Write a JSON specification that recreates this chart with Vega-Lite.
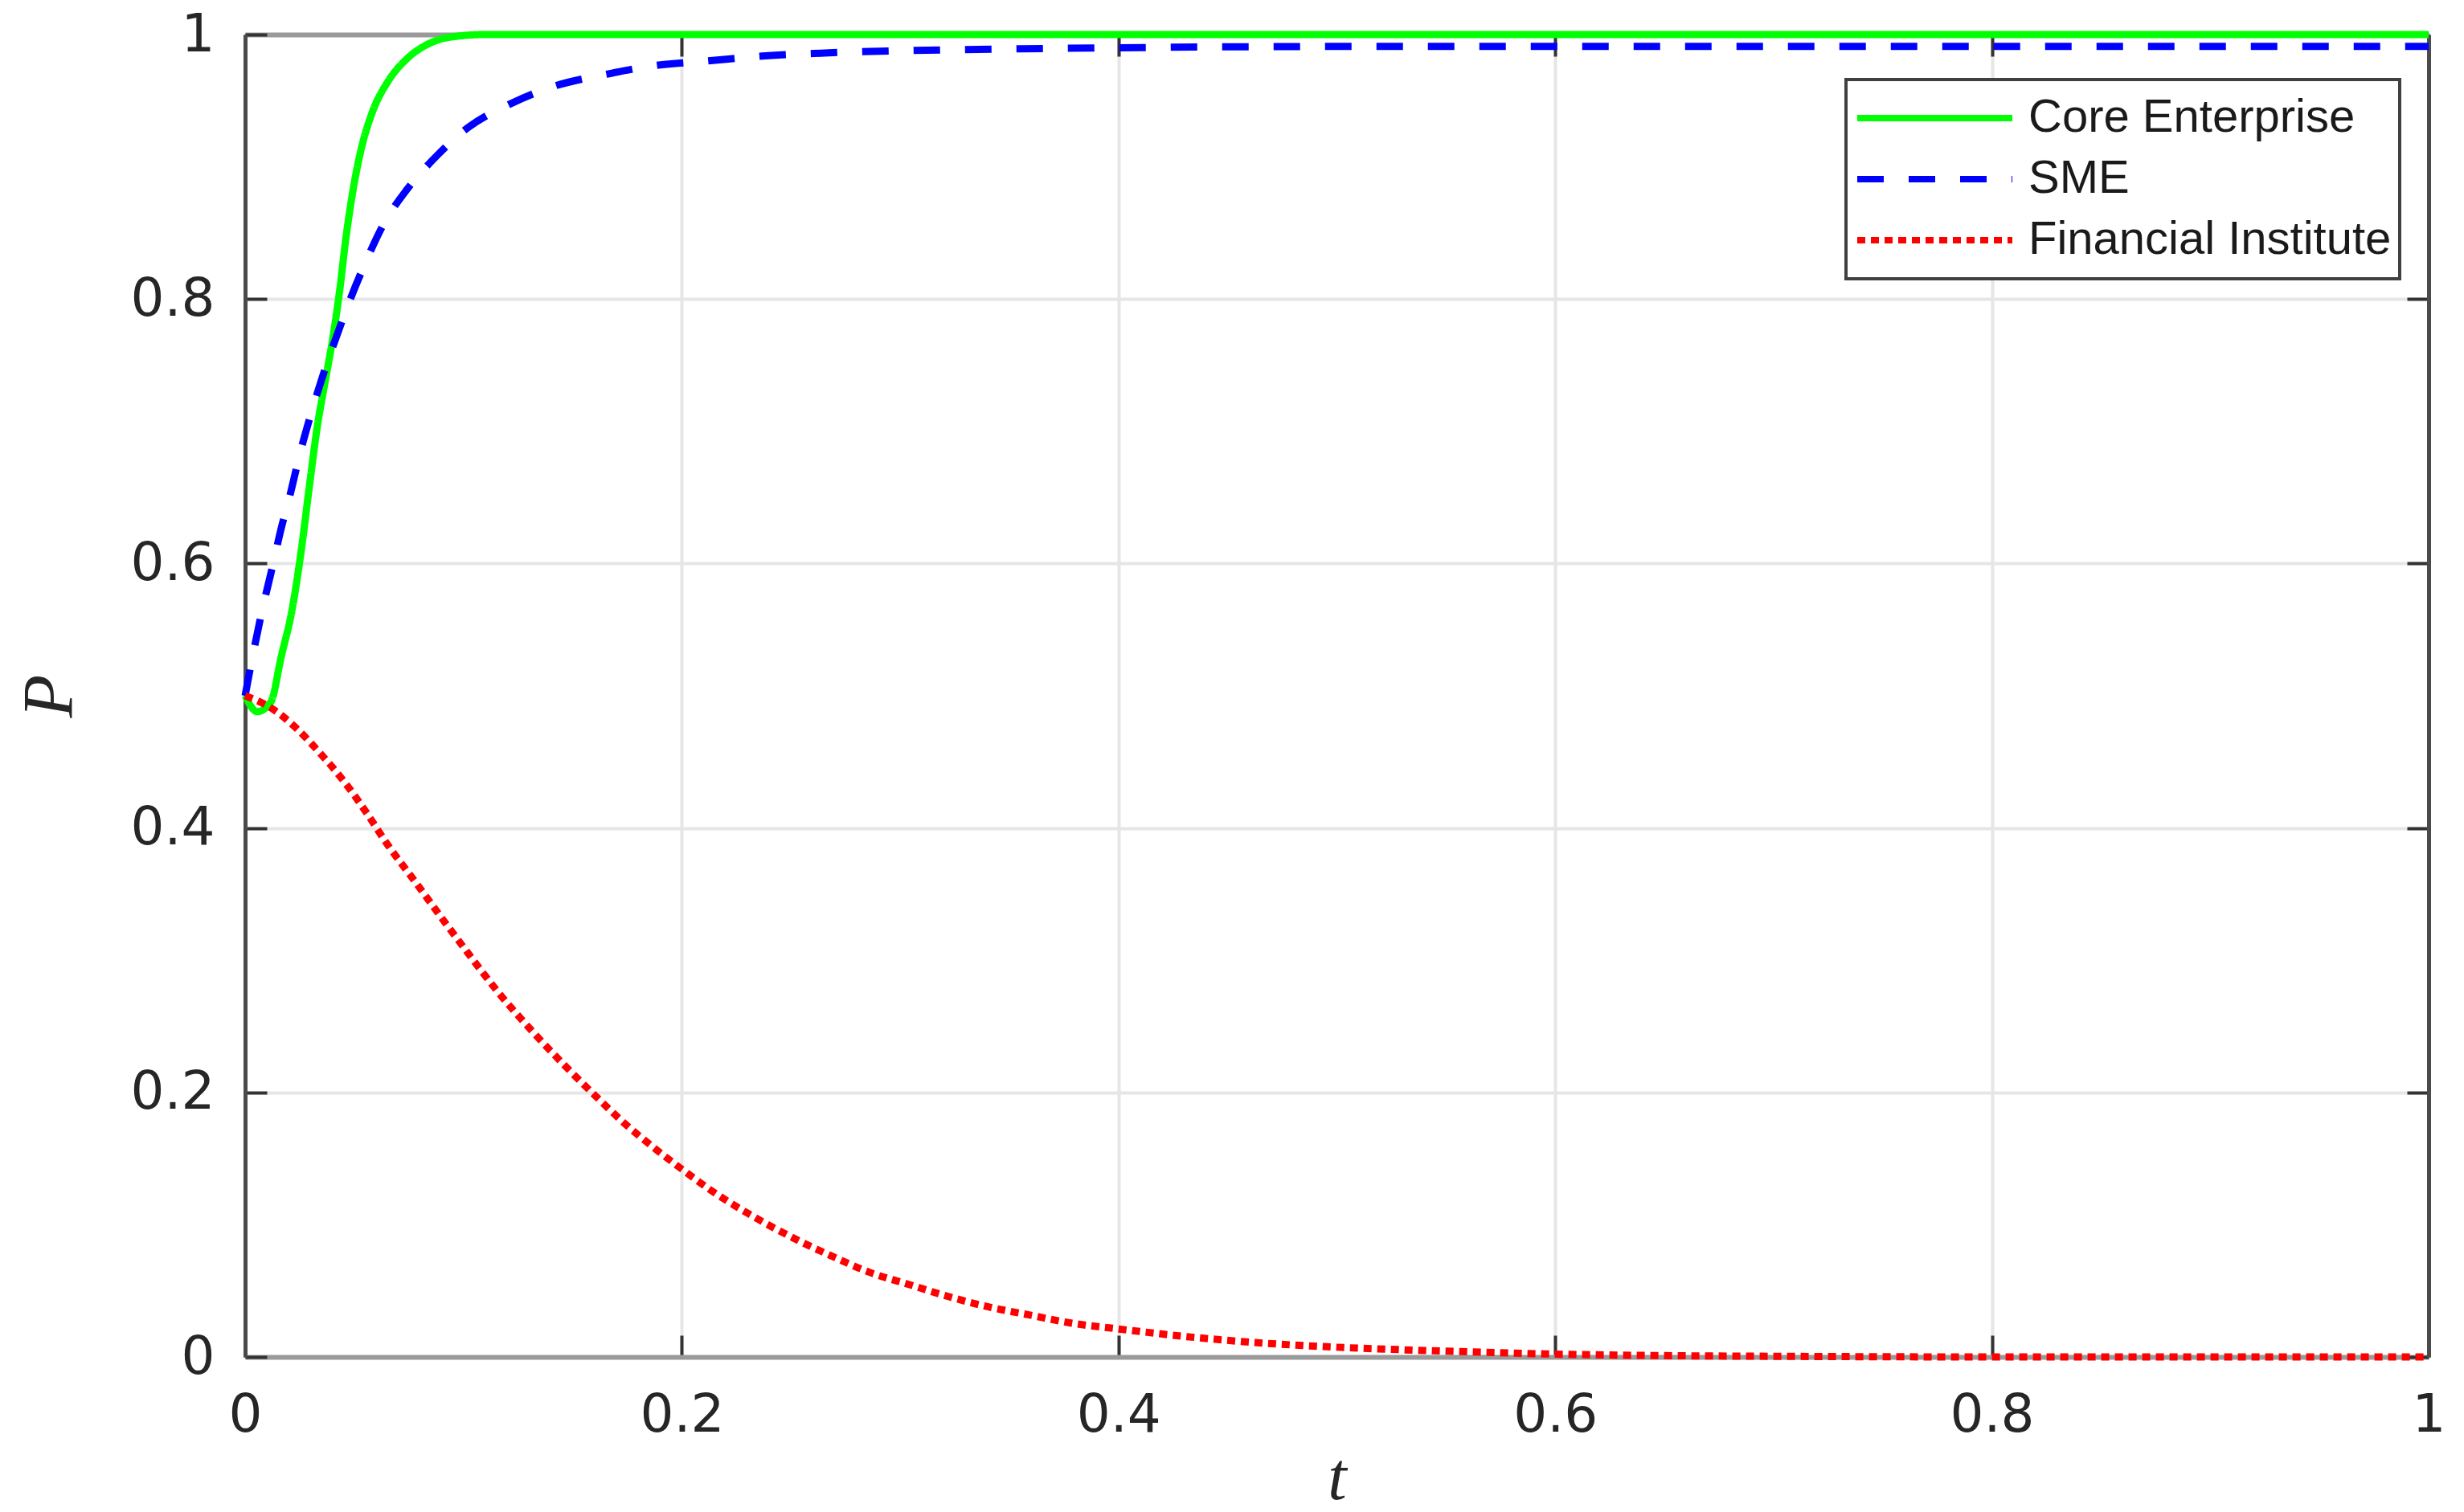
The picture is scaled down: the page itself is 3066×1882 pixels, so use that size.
{
  "$schema": "https://vega.github.io/schema/vega-lite/v6.json",
  "width": 2717,
  "height": 1646,
  "autosize": {"type": "none"},
  "padding": {"left": 305, "top": 43, "right": 44, "bottom": 193},
  "background": "white",
  "config": {
    "view": {"stroke": null},
    "axis": {
      "labelFont": "DejaVu Sans",
      "labelFontSize": 66,
      "labelColor": "#262626",
      "tickSize": -27,
      "tickWidth": 4,
      "tickColor": "#333333",
      "gridColor": "#e6e6e6",
      "gridWidth": 4,
      "gridOpacity": 1,
      "labelFlush": false,
      "labelOverlap": false,
      "titleFont": "Liberation Serif",
      "titleFontStyle": "italic",
      "titleFontWeight": "normal",
      "titleColor": "#262626"
    }
  },
  "data": {
    "values": [
      {"series": "Core Enterprise", "t": 0, "P": 0.5},
      {"series": "Core Enterprise", "t": 0.0055, "P": 0.488},
      {"series": "Core Enterprise", "t": 0.0117, "P": 0.495},
      {"series": "Core Enterprise", "t": 0.0166, "P": 0.53},
      {"series": "Core Enterprise", "t": 0.0215, "P": 0.565},
      {"series": "Core Enterprise", "t": 0.0258, "P": 0.611},
      {"series": "Core Enterprise", "t": 0.0294, "P": 0.658},
      {"series": "Core Enterprise", "t": 0.0331, "P": 0.704},
      {"series": "Core Enterprise", "t": 0.0368, "P": 0.739},
      {"series": "Core Enterprise", "t": 0.0405, "P": 0.774},
      {"series": "Core Enterprise", "t": 0.0435, "P": 0.809},
      {"series": "Core Enterprise", "t": 0.046, "P": 0.844},
      {"series": "Core Enterprise", "t": 0.0497, "P": 0.885},
      {"series": "Core Enterprise", "t": 0.0534, "P": 0.915},
      {"series": "Core Enterprise", "t": 0.0582, "P": 0.941},
      {"series": "Core Enterprise", "t": 0.0656, "P": 0.965},
      {"series": "Core Enterprise", "t": 0.0743, "P": 0.982},
      {"series": "Core Enterprise", "t": 0.084, "P": 0.993},
      {"series": "Core Enterprise", "t": 0.0938, "P": 0.998},
      {"series": "Core Enterprise", "t": 0.11, "P": 1.0},
      {"series": "Core Enterprise", "t": 0.2, "P": 1.0},
      {"series": "Core Enterprise", "t": 0.5, "P": 1.0},
      {"series": "Core Enterprise", "t": 1.0, "P": 1.0},
      {"series": "SME", "t": 0, "P": 0.5},
      {"series": "SME", "t": 0.0043, "P": 0.537},
      {"series": "SME", "t": 0.008, "P": 0.566},
      {"series": "SME", "t": 0.0123, "P": 0.596},
      {"series": "SME", "t": 0.0163, "P": 0.625},
      {"series": "SME", "t": 0.0209, "P": 0.654},
      {"series": "SME", "t": 0.0251, "P": 0.683},
      {"series": "SME", "t": 0.0303, "P": 0.714},
      {"series": "SME", "t": 0.0356, "P": 0.742},
      {"series": "SME", "t": 0.0417, "P": 0.771},
      {"series": "SME", "t": 0.0482, "P": 0.8},
      {"series": "SME", "t": 0.0555, "P": 0.829},
      {"series": "SME", "t": 0.0632, "P": 0.856},
      {"series": "SME", "t": 0.0742, "P": 0.883},
      {"series": "SME", "t": 0.0876, "P": 0.908},
      {"series": "SME", "t": 0.1024, "P": 0.93},
      {"series": "SME", "t": 0.122, "P": 0.948},
      {"series": "SME", "t": 0.1417, "P": 0.961},
      {"series": "SME", "t": 0.1656, "P": 0.97},
      {"series": "SME", "t": 0.188, "P": 0.9766},
      {"series": "SME", "t": 0.2116, "P": 0.98},
      {"series": "SME", "t": 0.2356, "P": 0.9836},
      {"series": "SME", "t": 0.2588, "P": 0.9856},
      {"series": "SME", "t": 0.282, "P": 0.987},
      {"series": "SME", "t": 0.306, "P": 0.988},
      {"series": "SME", "t": 0.327, "P": 0.9886},
      {"series": "SME", "t": 0.4, "P": 0.99},
      {"series": "SME", "t": 0.5, "P": 0.991},
      {"series": "SME", "t": 0.7, "P": 0.991},
      {"series": "SME", "t": 1.0, "P": 0.991},
      {"series": "Financial Institute", "t": 0, "P": 0.5},
      {"series": "Financial Institute", "t": 0.0129, "P": 0.4897},
      {"series": "Financial Institute", "t": 0.0233, "P": 0.4757},
      {"series": "Financial Institute", "t": 0.0341, "P": 0.457},
      {"series": "Financial Institute", "t": 0.0454, "P": 0.435},
      {"series": "Financial Institute", "t": 0.0558, "P": 0.411},
      {"series": "Financial Institute", "t": 0.065, "P": 0.388},
      {"series": "Financial Institute", "t": 0.0785, "P": 0.358},
      {"series": "Financial Institute", "t": 0.09, "P": 0.332},
      {"series": "Financial Institute", "t": 0.1018, "P": 0.306},
      {"series": "Financial Institute", "t": 0.1153, "P": 0.277},
      {"series": "Financial Institute", "t": 0.1325, "P": 0.2445},
      {"series": "Financial Institute", "t": 0.146, "P": 0.221},
      {"series": "Financial Institute", "t": 0.1607, "P": 0.197},
      {"series": "Financial Institute", "t": 0.1742, "P": 0.176},
      {"series": "Financial Institute", "t": 0.187, "P": 0.1585},
      {"series": "Financial Institute", "t": 0.2, "P": 0.142},
      {"series": "Financial Institute", "t": 0.2128, "P": 0.1266},
      {"series": "Financial Institute", "t": 0.2319, "P": 0.107},
      {"series": "Financial Institute", "t": 0.251, "P": 0.09},
      {"series": "Financial Institute", "t": 0.269, "P": 0.076},
      {"series": "Financial Institute", "t": 0.286, "P": 0.064},
      {"series": "Financial Institute", "t": 0.3036, "P": 0.055},
      {"series": "Financial Institute", "t": 0.3214, "P": 0.046},
      {"series": "Financial Institute", "t": 0.34, "P": 0.038},
      {"series": "Financial Institute", "t": 0.359, "P": 0.0318},
      {"series": "Financial Institute", "t": 0.378, "P": 0.0257},
      {"series": "Financial Institute", "t": 0.3993, "P": 0.0213},
      {"series": "Financial Institute", "t": 0.436, "P": 0.0146},
      {"series": "Financial Institute", "t": 0.466, "P": 0.0105},
      {"series": "Financial Institute", "t": 0.498, "P": 0.0075},
      {"series": "Financial Institute", "t": 0.529, "P": 0.0055},
      {"series": "Financial Institute", "t": 0.562, "P": 0.0038},
      {"series": "Financial Institute", "t": 0.5926, "P": 0.0024},
      {"series": "Financial Institute", "t": 0.65, "P": 0.001},
      {"series": "Financial Institute", "t": 0.7, "P": 0.0005},
      {"series": "Financial Institute", "t": 0.8, "P": 0.0},
      {"series": "Financial Institute", "t": 1.0, "P": 0.0}
    ]
  },
  "layer": [
    {
      "mark": {"type": "line", "interpolate": "monotone", "strokeWidth": 9, "strokeCap": "butt", "clip": false},
      "encoding": {
        "x": {
          "field": "t", "type": "quantitative",
          "scale": {"domain": [0, 1], "nice": false, "zero": false},
          "axis": {
            "orient": "bottom",
            "values": [0, 0.2, 0.4, 0.6, 0.8, 1],
            "format": "~g",
            "labelPadding": 67,
            "domainColor": "#9a9a9a",
            "domainWidth": 6,
            "grid": true,
            "title": "t",
            "titleFontSize": 84,
            "titleX": 1358.5,
            "titleY": 151,
            "titleBaseline": "middle",
            "titleAlign": "center"
          }
        },
        "y": {
          "field": "P", "type": "quantitative",
          "scale": {"domain": [0, 1], "nice": false},
          "axis": {
            "orient": "left",
            "values": [0, 0.2, 0.4, 0.6, 0.8, 1],
            "format": "~g",
            "labelPadding": 65,
            "domainColor": "#4a4a4a",
            "domainWidth": 5,
            "grid": true,
            "title": "P",
            "titleFontSize": 88,
            "titleX": -243,
            "titleY": 823,
            "titleAngle": -90,
            "titleBaseline": "middle",
            "titleAlign": "center"
          }
        },
        "color": {
          "field": "series", "type": "nominal",
          "scale": {
            "domain": ["Core Enterprise", "SME", "Financial Institute"],
            "range": ["#00ff00", "#0000ff", "#ff0000"]
          },
          "legend": {
            "title": null,
            "orient": "none",
            "legendX": 1992,
            "legendY": 56,
            "symbolType": "stroke",
            "symbolSize": 37249,
            "symbolStrokeWidth": 8,
            "clipHeight": 76,
            "rowPadding": 0,
            "labelOffset": 16,
            "labelFont": "Liberation Sans",
            "labelFontSize": 58,
            "labelColor": "#1a1a1a",
            "labelLimit": 1000,
            "padding": 10,
            "strokeColor": "#404040",
            "fillColor": "white",
            "cornerRadius": 0,
            "encode": {"legend": {"update": {"strokeWidth": {"value": 4}}}}
          }
        },
        "strokeDash": {
          "field": "series", "type": "nominal",
          "scale": {
            "domain": ["Core Enterprise", "SME", "Financial Institute"],
            "range": [[1, 0], [33, 31], [10, 7]]
          },
          "legend": {
            "title": null,
            "orient": "none",
            "legendX": 1992,
            "legendY": 56,
            "symbolType": "stroke",
            "symbolSize": 37249,
            "symbolStrokeWidth": 8,
            "clipHeight": 76,
            "rowPadding": 0,
            "labelOffset": 16,
            "labelFont": "Liberation Sans",
            "labelFontSize": 58,
            "labelColor": "#1a1a1a",
            "labelLimit": 1000,
            "padding": 10,
            "strokeColor": "#404040",
            "fillColor": "white",
            "cornerRadius": 0,
            "encode": {"legend": {"update": {"strokeWidth": {"value": 4}}}}
          }
        }
      }
    },
    {
      "mark": {"type": "point", "opacity": 0},
      "encoding": {
        "x": {
          "field": "t", "type": "quantitative",
          "scale": {"domain": [0, 1], "nice": false, "zero": false},
          "axis": {
            "orient": "top",
            "values": [0, 0.2, 0.4, 0.6, 0.8, 1],
            "labels": false,
            "grid": false,
            "title": null,
            "domainColor": "#9a9a9a",
            "domainWidth": 6
          }
        },
        "y": {
          "field": "P", "type": "quantitative",
          "scale": {"domain": [0, 1], "nice": false},
          "axis": {
            "orient": "right",
            "values": [0, 0.2, 0.4, 0.6, 0.8, 1],
            "labels": false,
            "grid": false,
            "title": null,
            "domainColor": "#4a4a4a",
            "domainWidth": 5
          }
        }
      }
    }
  ],
  "resolve": {"axis": {"x": "independent", "y": "independent"}}
}
